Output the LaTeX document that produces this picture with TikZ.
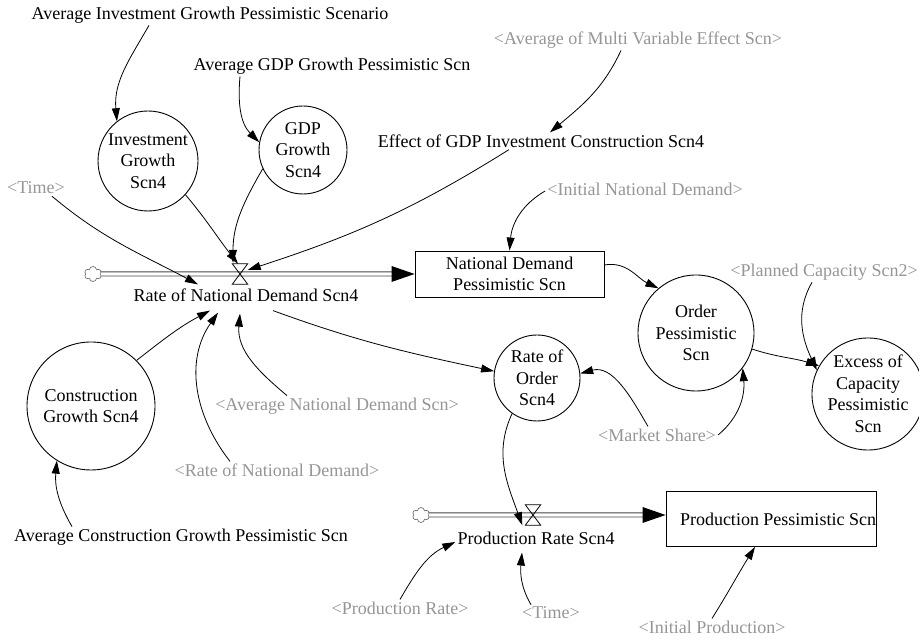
\documentclass[tikz,border=0pt]{standalone}
\usepackage{fontspec}
\setmainfont{Liberation Serif}
\usetikzlibrary{arrows.meta,shapes.symbols}
\definecolor{shadowtext}{RGB}{150,150,150}
\definecolor{pipeline}{RGB}{70,70,70}
\begin{document}
\begin{tikzpicture}[x=1pt,y=1pt,
  every node/.style={font=\fontsize{18}{21.5}\selectfont},
  var/.style={inner sep=2pt},
  ghost/.style={inner sep=2pt, text=shadowtext},
  aux/.style={circle, draw, line width=0.9pt, align=center, inner sep=0pt},
  stock/.style={rectangle, draw, line width=0.9pt, align=center, inner sep=0pt},
  link/.style={line width=0.8pt, -{Triangle[length=13pt,width=8pt]}},
  pipe/.style={draw=pipeline, line width=0.9pt, double=white, double distance=3.2pt},
  valvebox/.style={minimum width=15pt, minimum height=20pt, inner sep=0pt},
  source/.style={cloud, cloud puffs=6, cloud puff arc=170, aspect=1.15, draw=black!55,
                 fill=white, minimum width=17pt, minimum height=15pt, inner sep=0pt,
                 line width=0.7pt},
  valve/.style={draw=black, line width=0.8pt},
  tip/.style={fill=black},
]
\fill[white] (0,0) rectangle (919,639);
\useasboundingbox (0,0) rectangle (919,639);

% ---------- variables ----------
\node[var] (avgInv) at (210,624) {Average Investment Growth Pessimistic Scenario};
\node[var] (avgGDP) at (332,573) {Average GDP Growth Pessimistic Scn};
\node[ghost] (avgMulti) at (638,599) {<Average of Multi Variable Effect Scn>};
\node[var] (effect) at (541,498) {Effect of GDP Investment Construction Scn4};
\node[ghost] (time1) at (36,451) {<Time>};
\node[aux, minimum size=100pt] (inv) at (148,478) {Investment\\Growth\\Scn4};
\node[aux, minimum size=88pt] (gdp) at (303,489) {GDP\\Growth\\Scn4};
\node[ghost] (initND) at (645,450) {<Initial National Demand>};

\node[source] (cloud1) at (93,365) {};
\node[valvebox] (v1) at (240,365) {};
\node[stock, minimum width=189pt, minimum height=46pt] (ndBox) at (509.5,365) {National Demand\\Pessimistic Scn};
\node[var] (rate1) at (246,344) {Rate of National Demand Scn4};

\node[aux, minimum size=128pt] (constr) at (91,233) {Construction\\Growth Scn4};
\node[ghost] (rateND) at (277,169) {<Rate of National Demand>};
\node[ghost] (avgND) at (337,233) {<Average National Demand Scn>};
\node[var] (avgConstr) at (181,102) {Average Construction Growth Pessimistic Scn};

\node[aux, minimum size=116pt] (order) at (696,306) {Order\\Pessimistic\\Scn};
\node[ghost] (planned) at (824,367) {<Planned Capacity Scn2>};
\node[aux, minimum size=108pt] (excess) at (868,245) {Excess of\\Capacity\\Pessimistic\\Scn};
\node[aux, minimum size=86pt] (rateOrder) at (537,261) {Rate of\\Order\\Scn4};
\node[ghost] (market) at (657,204) {<Market Share>};

\node[source] (cloud2) at (421,124) {};
\node[valvebox] (v2) at (533,124) {};
\node[stock, minimum width=208pt, minimum height=55pt] (prodBox) at (771,120) {\hspace*{14pt}Production Pessimistic Scn};
\node[var] (prodRate) at (536,101) {Production Rate Scn4};
\node[ghost] (prodRateText) at (400,31) {<Production Rate>};
\node[ghost] (time2) at (551,26) {<Time>};
\node[ghost] (initProd) at (712,12) {<Initial Production>};

% ---------- flows ----------
\draw[pipe] (cloud1.east) -- ([xshift=-22]ndBox.west);
\fill[tip] (ndBox.west) -- ++(-23,8) -- ++(0,-16) -- cycle;
\draw[valve] (v1.north west) -- (v1.north east) -- (v1.south west) -- (v1.south east) -- cycle;

\coordinate (p2end) at (prodBox.west |- v2);
\draw[pipe] (cloud2.east) -- ([xshift=-22]p2end);
\fill[tip] (p2end) -- ++(-23,8) -- ++(0,-16) -- cycle;
\draw[valve] (v2.north west) -- (v2.north east) -- (v2.south west) -- (v2.south east) -- cycle;

% ---------- links into the demand rate ----------
\draw[link] ([xshift=-61]avgInv.south) to[out=240,in=95] (inv.128);
\draw[link] ([xshift=-92]avgGDP.south) to[out=265,in=135] (gdp.170);
\draw[link] ([xshift=-17]avgMulti.south) to[out=245,in=40] ([xshift=9]effect.north);
\draw[link] ([xshift=16]time1.south) to[out=-40,in=152] ([xshift=-48,yshift=2]rate1.north);
\draw[link] (inv.-42) to[out=-50,in=128] ([xshift=-2]v1.north);
\draw[link] (gdp.205) to[out=240,in=90] ([xshift=-7,yshift=1]v1.north);
\draw[link] ([xshift=-32]effect.south) to[out=212,in=18] ([yshift=4]v1.east);
\draw[link] (constr.45) to[out=38,in=208] ([xshift=-36,yshift=-7]rate1.south);
\draw[link] ([xshift=-47]rateND.north) to[out=128,in=235] ([xshift=-28,yshift=-9]rate1.south);
\draw[link] ([xshift=-50]avgND.north) to[out=140,in=265] ([xshift=-6,yshift=-10]rate1.south);
\draw[link] ([xshift=-109]avgConstr.north) to[out=120,in=265] (constr.238);

% ---------- demand, order and capacity ----------
\draw[link] ([yshift=-2]initND.west) to[out=210,in=85] (ndBox.north);
\draw[link] ([yshift=9]ndBox.east) to[out=10,in=155] (order.130);
\draw[link] ([xshift=-12]planned.south) to[out=240,in=115] (excess.155);
\draw[link] (order.-16) to[out=-18,in=163] (excess.150);
\draw[link] ([xshift=27,yshift=-7]rate1.south) to[out=-20,in=168] (rateOrder.171);
\draw[link] ([xshift=-9]market.north) to[out=120,in=15] (rateOrder.6);
\draw[link] (market.east) to[out=40,in=275] (order.-37);

% ---------- production ----------
\draw[link] (rateOrder.235) to[out=245,in=110] ([xshift=-3]v2.south west);
\draw[link] (prodRateText.north) to[out=60,in=205] ([yshift=-4]prodRate.west);
\draw[link] ([xshift=-20]time2.north) to[out=120,in=265] ([xshift=-14,yshift=-6]prodRate.south);
\draw[link] (initProd.north) to[out=58,in=238] ([xshift=-16]prodBox.south);
\end{tikzpicture}
\end{document}
